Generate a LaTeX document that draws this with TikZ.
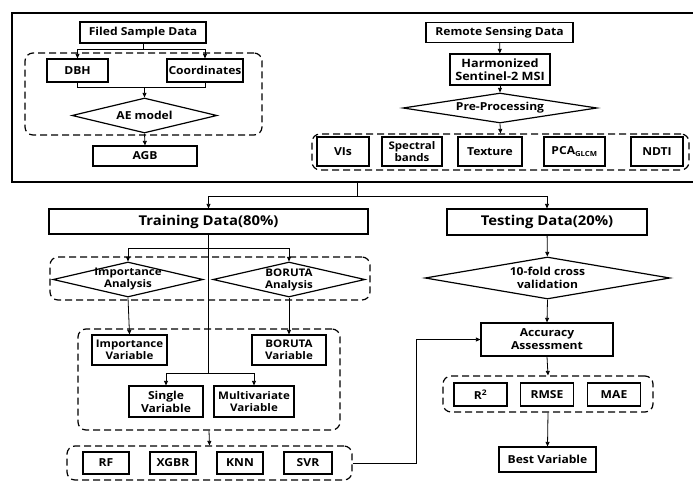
\documentclass[tikz,border=0pt]{standalone}
\usepackage{fontspec}
\setmainfont{Open Sans}[FakeStretch=1.1]
\usepackage{tikz}
\usetikzlibrary{arrows.meta, shapes.geometric}

\newcommand{\bigsz}{\fontsize{13.5}{15}\selectfont}
\newcommand{\midsz}{\fontsize{11}{13}\selectfont}
\newcommand{\smlsz}{\fontsize{10.5}{12}\selectfont}

\begin{document}
\begin{tikzpicture}[
    x=1pt, y=-1pt,
    box/.style={draw, line width=1.2pt, align=center, inner sep=1pt, font=\bfseries\midsz},
    sbox/.style={box, font=\bfseries\smlsz},
    dia/.style={draw, diamond, line width=1.2pt, inner sep=0pt},
    grp/.style={draw, dashed, dash pattern=on 7pt off 4pt, line width=1.2pt, rounded corners=8pt},
    arr/.style={-{Triangle[length=4.5pt, width=4pt]}},
    line width=0.8pt
]
  \useasboundingbox (0,0) rectangle (693,481);

  % --- TOP FRAME ---
  \draw[line width=1.2pt] (700,13) -| (12,182) -- (700,182);

  % --- FIELD DATA ---
  \node[box, minimum width=126, minimum height=21] (fsd) at (143,32.5) {Filed Sample Data};
  \node[grp, minimum width=237, minimum height=82] (g1) at (143.5,94) {};
  \node[box, minimum width=61, minimum height=23] (dbh) at (77.5,70.5) {DBH};
  \node[box, minimum width=76, minimum height=23] (coord) at (205,70.5) {Coordinates};
  \node[dia, minimum width=145, minimum height=35, label={[font=\bfseries\midsz]center:AE model}] (ae) at (144.5,115.5) {};
  \node[box, minimum width=104, minimum height=20] (agb) at (145,156) {AGB};

  % --- REMOTE SENSING ---
  \node[box, minimum width=147, minimum height=20] (rsd) at (499.5,32.5) {Remote Sensing Data};
  \node[box, minimum width=100, minimum height=31, font=\bfseries\fontsize{11.5}{13}\selectfont] (harm) at (500,69.5) {Harmonized\\Sentinel-2 MSI};
  \node[dia, minimum width=194, minimum height=30, label={[font=\bfseries\midsz]center:Pre-Processing}] (pre) at (500,108) {};
  \node[grp, minimum width=377, minimum height=36] (g2) at (500.5,152) {};
  \node[box, minimum width=52, minimum height=29] (vis) at (343,151.5) {VIs};
  \node[sbox, minimum width=60, minimum height=29] (spec) at (412,151.5) {Spectral\\bands};
  \node[box, minimum width=64, minimum height=29] (tex) at (490,151.5) {Texture};
  \node[box, minimum width=61, minimum height=29] (pca) at (574.5,151.5) {PCA\textsubscript{\fontsize{7}{8}\selectfont GLCM}};
  \node[box, minimum width=52, minimum height=29] (ndti) at (657,151.5) {NDTI};

  % --- TRAINING BRANCH ---
  \node[box, minimum width=319, minimum height=25, font=\bfseries\bigsz] (train) at (208.5,221.5) {Training Data(80\%)};
  \node[grp, minimum width=320, minimum height=43] (g3) at (210,278.5) {};
  \node[dia, minimum width=150, minimum height=35, label={[font=\bfseries\smlsz, align=center]center:Importance\\Analysis}] (ia) at (128,279.5) {};
  \node[dia, minimum width=152, minimum height=35, label={[font=\bfseries\smlsz, align=center]center:BORUTA\\Analysis}] (ba) at (289,279.5) {};
  \node[grp, minimum width=262, minimum height=101] (g4) at (209,379.5) {};
  \node[sbox, minimum width=75, minimum height=30] (iv) at (129.5,350) {Importance\\Variable};
  \node[sbox, minimum width=74, minimum height=30] (bv) at (289,350) {BORUTA\\Variable};
  \node[box, minimum width=74, minimum height=31] (sv) at (166,401.5) {Single\\Variable};
  \node[sbox, minimum width=80, minimum height=31] (mv) at (254,401.5) {Multivariate\\Variable};
  \node[grp, minimum width=285, minimum height=34] (g5) at (209.5,463) {};
  \node[box, minimum width=46, minimum height=22] (rf) at (106,463) {RF};
  \node[box, minimum width=46, minimum height=22] (xgbr) at (173,463) {XGBR};
  \node[box, minimum width=46, minimum height=22] (knn) at (240,463) {KNN};
  \node[box, minimum width=48, minimum height=22] (svr) at (308,463) {SVR};

  % --- TESTING BRANCH ---
  \node[box, minimum width=200, minimum height=26, font=\bfseries\bigsz] (test) at (547,222) {Testing Data(20\%)};
  \node[dia, minimum width=245, minimum height=42, label={[font=\bfseries\midsz, align=center]center:10-fold cross\\validation}] (tf) at (547.5,278) {};
  \node[box, minimum width=132, minimum height=33] (acc) at (547,339.5) {Accuracy\\Assessment};
  \node[grp, minimum width=210, minimum height=36] (g6) at (548,394) {};
  \node[box, minimum width=53, minimum height=23] (r2) at (480.5,394.5) {R\textsuperscript{2}};
  \node[box, minimum width=53, minimum height=23] (rmse) at (547,394.5) {RMSE};
  \node[box, minimum width=53, minimum height=23] (mae) at (614,394.5) {MAE};
  \node[box, minimum width=97, minimum height=25] (best) at (547.5,459.5) {Best Variable};

  % --- DRAWING EDGES ---

  % Field data
  \draw[arr] (fsd.south) -- ++(0,5.5) -| (dbh.north);
  \draw[arr] (fsd.south) -- ++(0,5.5) -| (coord.north);
  \draw (dbh.south) -- ++(0,5) coordinate (j1) -| (coord.south);
  \draw[arr] (j1 -| ae.north) -- (ae.north);
  \draw[arr] (ae.south) -- (agb.north);

  % Remote sensing
  \draw[arr] (rsd) -- (harm);
  \draw[arr] (harm) -- (pre);
  \draw[arr] (pre.south) -- (g2.north);

  % Split into training and testing
  \coordinate (ob) at (357,182);
  \draw (ob) -- ++(0,14) coordinate (j2);
  \draw[arr] (j2) -| (train.north);
  \draw[arr] (j2) -| (test.north);

  % Training side
  \draw (train.south) -- ++(0,14) coordinate (j3);
  \draw[arr] (j3) -| (ia.north);
  \draw[arr] (j3) -| (ba.north);
  \draw (train.south) -- ++(0,139) coordinate (j4);
  \draw[arr] (j4) -| (sv.north);
  \draw[arr] (j4) -| (mv.north);
  \draw[arr] (ia.south) -- (iv.north);
  \draw[arr] (ba.south) -- (bv.north);
  \draw[arr] (g4.south) -- (g5.north);
  \draw[arr] (g5.east) -- ++(64,0) |- (acc.west);

  % Testing side
  \draw[arr] (test) -- (tf);
  \draw[arr] (tf.south) -- (acc.north);
  \draw[arr] (acc.south) -- (g6.north);
  \draw[arr] (g6.south) -- (best.north);
\end{tikzpicture}
\end{document}
